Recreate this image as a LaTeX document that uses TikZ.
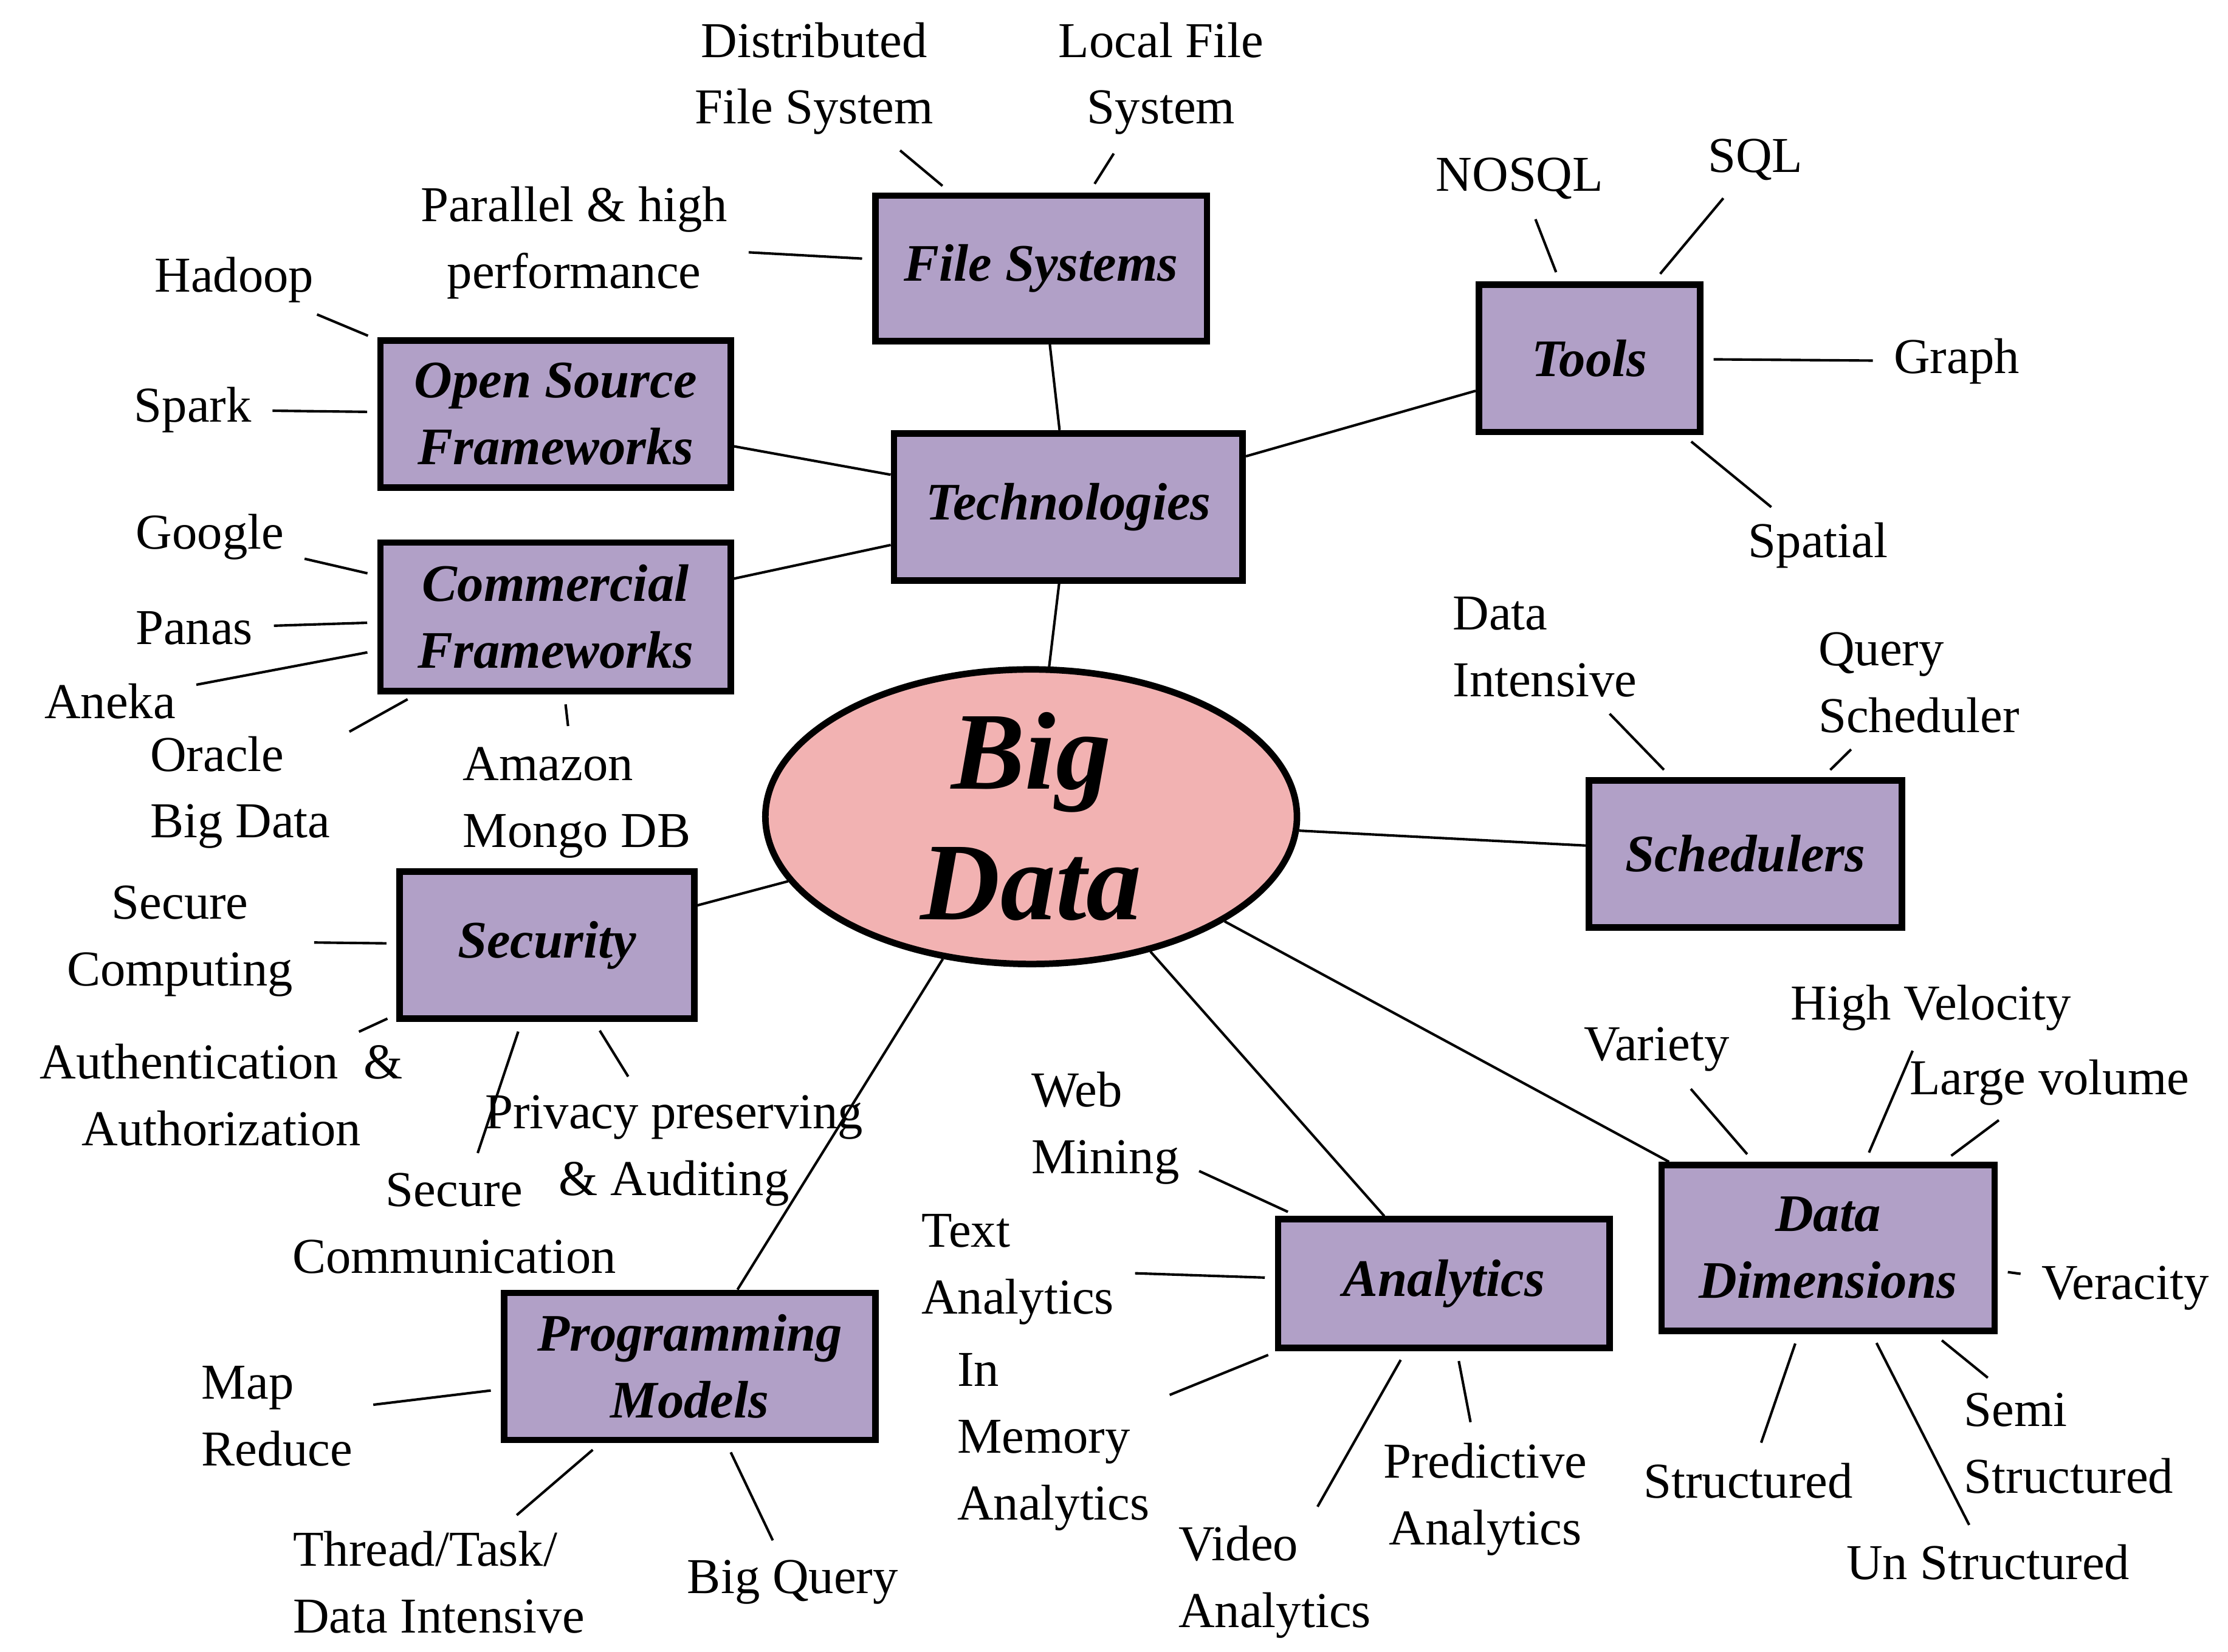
\documentclass[tikz,border=0pt]{standalone}
\usepackage{fontspec}
\setmainfont{Liberation Serif}
\usetikzlibrary{shapes.geometric}
\definecolor{mlilac}{RGB}{177,160,199}
\definecolor{mpink}{RGB}{242,178,178}

\begin{document}
\begin{tikzpicture}[x=0.01cm,y=-0.01cm,
  box/.style={draw=black, line width=1.3pt, fill=mlilac, align=center, inner sep=0pt,
    font=\fontsize{10.5}{13.3}\selectfont\bfseries\itshape},
  lbl/.style={align=center, inner sep=1pt, font=\fontsize{10}{13.3}\selectfont},
  lbll/.style={lbl, align=left},
  lnk/.style={draw=black, line width=0.5pt}]
  \useasboundingbox (0,0) rectangle (1560,1157);
  % central node
  \node [ellipse, draw=black, line width=1.3pt, fill=mpink, minimum width=3.72cm, minimum height=2.06cm,
    inner sep=0pt, align=center, font=\fontsize{22}{26}\selectfont\bfseries\itshape] (bd) at (722,572) {Big\\Data};
  % boxes
  \node [box, minimum width=2.32cm, minimum height=1.02cm] (fs) at (729,188) {File Systems};
  \node [box, minimum width=1.55cm, minimum height=1.03cm] (tools) at (1113,251) {Tools};
  \node [box, minimum width=2.45cm, minimum height=1.03cm] (osf) at (389,290) {Open Source\\Frameworks};
  \node [box, minimum width=2.44cm, minimum height=1.03cm] (tech) at (748,355) {Technologies};
  \node [box, minimum width=2.45cm, minimum height=1.04cm] (cf) at (389,432) {Commercial\\Frameworks};
  \node [box, minimum width=2.19cm, minimum height=1.03cm] (sched) at (1222,598) {Schedulers};
  \node [box, minimum width=2.06cm, minimum height=1.03cm] (sec) at (383,662) {Security};
  \node [box, minimum width=2.33cm, minimum height=1.16cm] (dd) at (1280,874) {Data\\Dimensions};
  \node [box, minimum width=2.32cm, minimum height=0.90cm] (ana) at (1011,899) {Analytics};
  \node [box, minimum width=2.60cm, minimum height=1.03cm] (pm) at (483,957) {Programming\\Models};
  % labels
  \node [lbl] (dfs) at (570,55) {Distributed\\File System};
  \node [lbl] (lfs) at (813,55) {Local File\\System};
  \node [lbl] (par) at (402,170) {Parallel \& high\\performance};
  \node [lbl] (hadoop) at (164,196) {Hadoop};
  \node [lbl] (spark) at (135,287) {Spark};
  \node [lbl] (nosql) at (1064,125) {NOSQL};
  \node [lbl] (sql) at (1229,112) {SQL};
  \node [lbl] (graph) at (1370,253) {Graph};
  \node [lbl] (spatial) at (1273,382) {Spatial};
  \node [lbl] (google) at (147,376) {Google};
  \node [lbl] (panas) at (136,440) {Panas};
  \node [lbl] (aneka) at (77,491) {Aneka};
  \node [lbll, anchor=west] (oracle) at (101,555) {Oracle\\Big Data};
  \node [lbll, anchor=west] (amazon) at (320,562) {Amazon\\Mongo DB};
  \node [lbll, anchor=west] (dint) at (1013,453) {Data\\Intensive};
  \node [lbll, anchor=west] (qs) at (1269,478) {Query\\Scheduler};
  \node [lbl] (scomp) at (126,659) {Secure\\Computing};
  \node [lbl] (auth) at (155,767) {Authentication\ \ \&\\Authorization};
  \node [lbl] (priv) at (472,806) {Privacy preserving\\\& Auditing};
  \node [lbl] (scomm) at (318,857) {Secure\\Communication};
  \node [lbll, anchor=west] (web) at (718,790) {Web\\Mining};
  \node [lbll, anchor=west] (text) at (641,889) {Text\\Analytics};
  \node [lbll, anchor=west] (inmem) at (666,1010) {In\\Memory\\Analytics};
  \node [lbll, anchor=west] (video) at (821,1108) {Video\\Analytics};
  \node [lbl] (pred) at (1040,1050) {Predictive\\Analytics};
  \node [lbl] (variety) at (1160,735) {Variety};
  \node [lbl] (hv) at (1352,706) {High Velocity};
  \node [lbl] (lv) at (1435,758) {Large volume};
  \node [lbl] (ver) at (1488,902) {Veracity};
  \node [lbll, anchor=west] (semi) at (1371,1011) {Semi\\Structured};
  \node [lbl] (struct) at (1224,1037) {Structured};
  \node [lbl] (unstr) at (1392,1094) {Un Structured};
  \node [lbll, anchor=west] (mr) at (137,992) {Map\\Reduce};
  \node [lbll, anchor=west] (thread) at (201,1108) {Thread/Task/\\Data Intensive};
  \node [lbl] (bq) at (555,1108) {Big Query};
  % main connectors
  \foreach \a/\b in {bd/tech, bd/sched, bd/dd, bd/ana, bd/pm, bd/sec,
    tech/fs, tech/tools, tech/osf, tech/cf}
    \draw [lnk] (\a) -- (\b);
  % leaf connectors
  \foreach \a/\b in {dfs/fs, lfs/fs, par/fs, hadoop/osf, spark/osf,
    nosql/tools, sql/tools, graph/tools, spatial/tools,
    google/cf, panas/cf, aneka/cf, oracle/cf, amazon/cf,
    dint/sched, qs/sched, scomp/sec, auth/sec, priv/sec, scomm/sec,
    web/ana, text/ana, inmem/ana, video/ana, pred/ana,
    variety/dd, hv/dd, lv/dd, ver/dd, semi/dd, struct/dd, unstr/dd,
    mr/pm, thread/pm, bq/pm}
    \draw [lnk, shorten <=3pt, shorten >=2pt] (\a) -- (\b);
\end{tikzpicture}
\end{document}
